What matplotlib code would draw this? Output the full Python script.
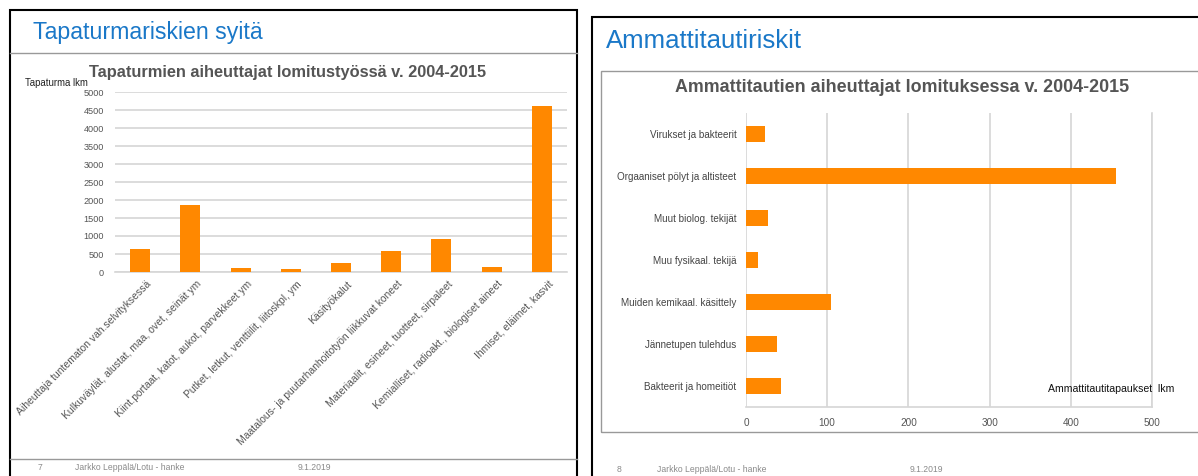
import matplotlib.pyplot as plt
from matplotlib.patches import Rectangle
from matplotlib.lines import Line2D
from matplotlib.transforms import ScaledTranslation

plt.rcParams['font.family'] = ['Liberation Sans', 'DejaVu Sans']

# left chart: accidents
acc_labels = ["Aiheuttaja tuntematon vah.selvityksessä",
              "Kulkuväylät, alustat, maa, ovet, seinät ym",
              "Kiint.portaat, katot, aukot, parvekkeet ym",
              "Putket, letkut, venttiilit, liitoskpl, ym",
              "Käsityökalut",
              "Maatalous- ja puutarhanhoitotyön liikkuvat koneet",
              "Materiaalit, esineet, tuotteet, sirpaleet",
              "Kemialliset, radioakt., biologiset aineet",
              "Ihmiset, eläimet, kasvit"]
acc_values = [650, 1850, 100, 80, 260, 580, 930, 150, 4610]

# right chart: occupational diseases
dis_labels = ["Virukset ja bakteerit",
              "Orgaaniset pölyt ja altisteet",
              "Muut biolog. tekijät",
              "Muu fysikaal. tekijä",
              "Muiden kemikaal. käsittely",
              "Jännetupen tulehdus",
              "Bakteerit ja homeitiöt"]
dis_values = [24, 456, 27, 15, 105, 38, 43]

W, H = 1198, 476
fig = plt.figure(figsize=(W / 100, H / 100), dpi=100)

def fx(x):
    return x / W

def fy(y):
    return 1 - y / H

def hline(x0, x1, y, color, lw):
    fig.add_artist(Line2D([fx(x0), fx(x1)], [fy(y), fy(y)], color=color, lw=lw))

def box(x0, y0, x1, y1, color, lw):
    fig.add_artist(Rectangle((fx(x0), fy(y1)), fx(x1) - fx(x0), fy(y0) - fy(y1),
                             fill=False, edgecolor=color, lw=lw))

orange = '#ff8800'
grid = '#d6d6d6'
blue = '#1a78c8'

# slide frames
box(10, 10, 577, 490, 'black', 1.5)
hline(10, 577, 53, '#999999', 1)
hline(10, 577, 459, '#999999', 1)
box(592, 17, 1210, 490, 'black', 1.5)
box(601, 71, 1210, 432, '#999999', 1)

fig.text(fx(33), fy(33), "Tapaturmariskien syitä", color=blue, fontsize=16.7, va='center')
fig.text(fx(606), fy(41), "Ammattitautiriskit", color=blue, fontsize=18.5, va='center')

# footers
foot = dict(color='#8a8a8a', fontsize=6.2, va='center')
fig.text(fx(38), fy(467), "7", **foot)
fig.text(fx(75), fy(467), "Jarkko Leppälä/Lotu - hanke", **foot)
fig.text(fx(298), fy(467), "9.1.2019", **foot)
fig.text(fx(617), fy(469), "8", **foot)
fig.text(fx(657), fy(469), "Jarkko Leppälä/Lotu - hanke", **foot)
fig.text(fx(910), fy(469), "9.1.2019", **foot)

# left chart
ax1 = fig.add_axes([fx(115), fy(272), fx(567) - fx(115), fy(92) - fy(272)])
ax1.bar(range(len(acc_values)), acc_values, width=0.4, color=orange, zorder=3)
ax1.set_xlim(-0.5, len(acc_values) - 0.5)
ax1.set_ylim(0, 5000)
ax1.set_yticks(range(0, 5001, 500))
ax1.yaxis.grid(True, color=grid, lw=1.2)
ax1.set_axisbelow(True)
for s in ['top', 'right', 'left']:
    ax1.spines[s].set_visible(False)
ax1.spines['bottom'].set_color(grid)
ax1.spines['bottom'].set_linewidth(1.2)
ax1.tick_params(axis='y', length=0, labelsize=6.6, labelcolor='#555555', pad=8)
ax1.tick_params(axis='x', length=0, pad=5)
ax1.set_xticks(range(len(acc_labels)))
ax1.set_xticklabels(acc_labels, rotation=45, ha='right', va='top',
                    rotation_mode='anchor', fontsize=7.5, color='#555555')
shift = ScaledTranslation(6 / 100, 0, fig.dpi_scale_trans)
for lab in ax1.get_xticklabels():
    lab.set_transform(lab.get_transform() + shift)
fig.text(fx(288), fy(72), "Tapaturmien aiheuttajat lomitustyössä v. 2004-2015",
         ha='center', va='center', fontsize=11.8, fontweight='bold', color='#555555')
fig.text(fx(25), fy(83), "Tapaturma lkm", fontsize=6.9, va='center', color='#222222')

# right chart
ax2 = fig.add_axes([fx(746), fy(407), fx(1152) - fx(746), fy(113) - fy(407)])
ax2.barh(range(len(dis_values)), dis_values, height=0.4, color=orange, zorder=3)
ax2.set_ylim(len(dis_values) - 0.5, -0.5)
ax2.set_xlim(0, 500)
ax2.set_xticks(range(0, 501, 100))
ax2.xaxis.grid(True, color=grid, lw=1.2)
ax2.set_axisbelow(True)
for s in ['top', 'left']:
    ax2.spines[s].set_visible(False)
for s in ['right', 'bottom']:
    ax2.spines[s].set_color(grid)
    ax2.spines[s].set_linewidth(1.2)
ax2.tick_params(axis='x', length=0, labelsize=7.2, labelcolor='#555555', pad=8)
ax2.tick_params(axis='y', length=0, pad=7)
ax2.set_yticks(range(len(dis_labels)))
ax2.set_yticklabels(dis_labels, fontsize=7.1, color='#444444')
fig.text(fx(902), fy(88), "Ammattitautien aiheuttajat lomituksessa v. 2004-2015",
         ha='center', va='center', fontsize=12.9, fontweight='bold', color='#555555')
fig.text(fx(1048), fy(389), "Ammattitautitapaukset  lkm", fontsize=7.6, va='center', color='#111111')

fig.savefig("out.png", dpi=100)
